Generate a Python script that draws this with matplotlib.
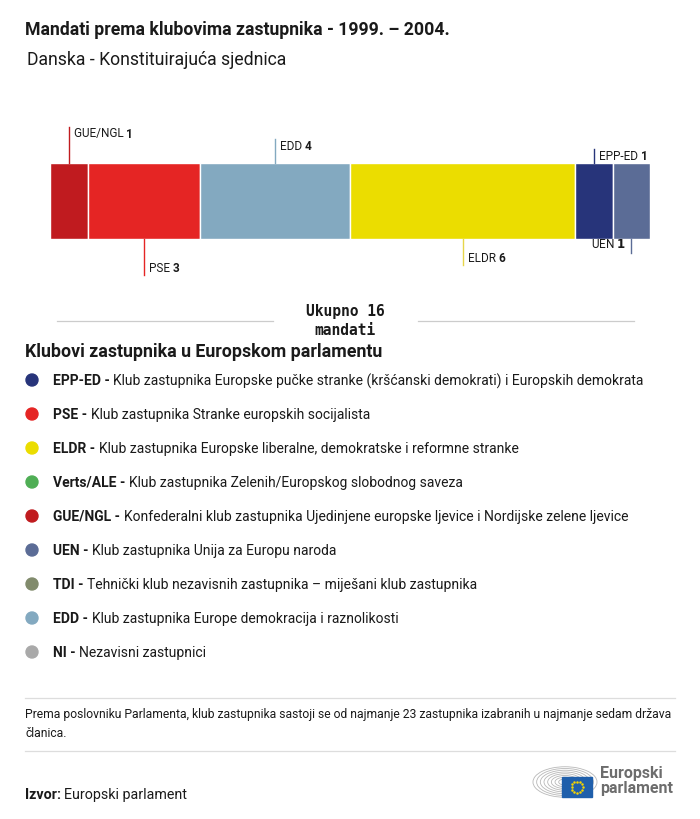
import numpy as np
import matplotlib.pyplot as plt
from matplotlib.patches import Circle, Rectangle, Arc

plt.rcParams['font.family'] = ['Roboto', 'DejaVu Sans']

# seat bar data (left to right)
groups = ['GUE/NGL', 'PSE', 'EDD', 'ELDR', 'EPP-ED', 'UEN']
seats = [1, 3, 4, 6, 1, 1]
bar_colors = ['#c01b1f', '#e52524', '#83a9c0', '#ebdd00', '#27347a', '#5b6c96']
label_side = ['up', 'down', 'up', 'down', 'up', 'down']
label_len = [36, 36, 24, 26, 14, 14]  # leader line length in px

# legend
legend_codes = ['EPP-ED', 'PSE', 'ELDR', 'Verts/ALE', 'GUE/NGL', 'UEN', 'TDI', 'EDD', 'NI']
legend_texts = [
    'Klub zastupnika Europske pučke stranke (kršćanski demokrati) i Europskih demokrata',
    'Klub zastupnika Stranke europskih socijalista',
    'Klub zastupnika Europske liberalne, demokratske i reformne stranke',
    'Klub zastupnika Zelenih/Europskog slobodnog saveza',
    'Konfederalni klub zastupnika Ujedinjene europske ljevice i Nordijske zelene ljevice',
    'Klub zastupnika Unija za Europu naroda',
    'Tehnički klub nezavisnih zastupnika – miješani klub zastupnika',
    'Klub zastupnika Europe demokracija i raznolikosti',
    'Nezavisni zastupnici',
]
legend_colors = ['#27347a', '#e52524', '#ebdd00', '#4fae55', '#c01b1f',
                 '#5b6c96', '#818b6c', '#83a9c0', '#a9a9a9']

W, H = 700, 820
fig = plt.figure(figsize=(7, 8.2), dpi=100)
bg = fig.add_axes([0, 0, 1, 1])
bg.set_xlim(0, W)
bg.set_ylim(H, 0)
bg.axis('off')

txt = '#1a1a1a'
bg.text(25, 30, 'Mandati prema klubovima zastupnika - 1999. – 2004.', fontsize=12.7,
        fontweight='bold', color=txt, va='center')
bg.text(27, 60, 'Danska - Konstituirajuća sjednica', fontsize=12.7, color=txt, va='center')

# stacked bar
bx0, bx1, by0, by1 = 50, 650, 164, 240
ax = fig.add_axes([bx0 / W, 1 - by1 / H, (bx1 - bx0) / W, (by1 - by0) / H])
total = sum(seats)
ax.set_xlim(0, total)
ax.set_ylim(0, 1)
ax.axis('off')
left = 0
ppu = by1 - by0
for g, s, c, side, ln in zip(groups, seats, bar_colors, label_side, label_len):
    ax.barh(0.5, s, left=left, height=1, color=c, edgecolor='white', linewidth=1)
    xc = left + s / 2
    if side == 'up':
        y0, y1 = 1, 1 + ln / ppu
        ty = y1 - 6 / ppu
    else:
        y0, y1 = 0, -ln / ppu
        ty = y1 + 8 / ppu
    ax.plot([xc, xc], [y0, y1], color=c if c != '#ebdd00' else '#e6d64a', lw=1, clip_on=False)
    dx = 5 / 37.5
    if g == 'UEN':
        ax.text(xc - dx, ty + 2 / ppu, f'{g} $\\bf{{{s}}}$', fontsize=8.5, ha='right', va='center', color=txt)
    else:
        ax.text(xc + dx, ty, f'{g} ', fontsize=8.5, ha='left', va='center', color=txt)
        ax.annotate(f'{s}', xy=(1, 0.5), xycoords=ax.texts[-1], fontsize=8.5, fontweight='bold',
                    va='center', ha='left', color=txt)
    left += s

# total
bg.plot([57, 273], [322, 322], color='#cccccc', lw=0.9)
bg.plot([418, 634], [322, 322], color='#cccccc', lw=0.9)
bg.text(345, 321, f'Ukupno {total}\nmandati', fontsize=10.5, family='DejaVu Sans Mono',
        fontweight='bold', ha='center', va='center', linespacing=1.35, color=txt)

bg.text(25, 352, 'Klubovi zastupnika u Europskom parlamentu', fontsize=12.8,
        fontweight='bold', color=txt, va='center')

for i, (code, t, c) in enumerate(zip(legend_codes, legend_texts, legend_colors)):
    y = 381 + i * 34
    bg.add_patch(Circle((32, y), 6, color=c))
    tk = bg.text(53, y, f'{code} - ', fontsize=10, fontweight='bold', color=txt, va='center')
    bg.annotate(t, xy=(1, 0.5), xycoords=tk, fontsize=10, color=txt, va='center', ha='left')

bg.plot([25, 675], [699, 699], color='#dddddd', lw=0.9)
bg.text(25, 724, 'Prema poslovniku Parlamenta, klub zastupnika sastoji se od najmanje 23 zastupnika '
        'izabranih u najmanje sedam država\nčlanica.', fontsize=8.7, color=txt, va='center',
        linespacing=1.6)
bg.plot([25, 675], [752, 752], color='#dddddd', lw=0.9)
src = bg.text(25, 795, 'Izvor: ', fontsize=10.3, fontweight='bold', color=txt, va='center')
bg.annotate('Europski parlament', xy=(1, 0.5), xycoords=src, fontsize=10.3, color=txt,
            va='center', ha='left')

# logo
for r in np.arange(6, 33, 3.5):
    bg.add_patch(Arc((565, 783), r * 2.1, r * 1.0, theta1=0, theta2=360, color='#b8b8b8', lw=0.6))
bg.add_patch(Rectangle((562, 778), 30, 20, color='#1f5fab'))
for a in np.linspace(0, 2 * np.pi, 12, endpoint=False):
    bg.plot(577 + 5.5 * np.cos(a), 788 + 5.5 * np.sin(a), 'o', ms=0.8, color='#f5d400')
bg.text(600, 781, 'Europski\nparlament', fontsize=11.5, fontweight='bold', color='#6d6d6d',
        va='center', linespacing=1.0)

fig.savefig('out.png', dpi=100, facecolor='white')
